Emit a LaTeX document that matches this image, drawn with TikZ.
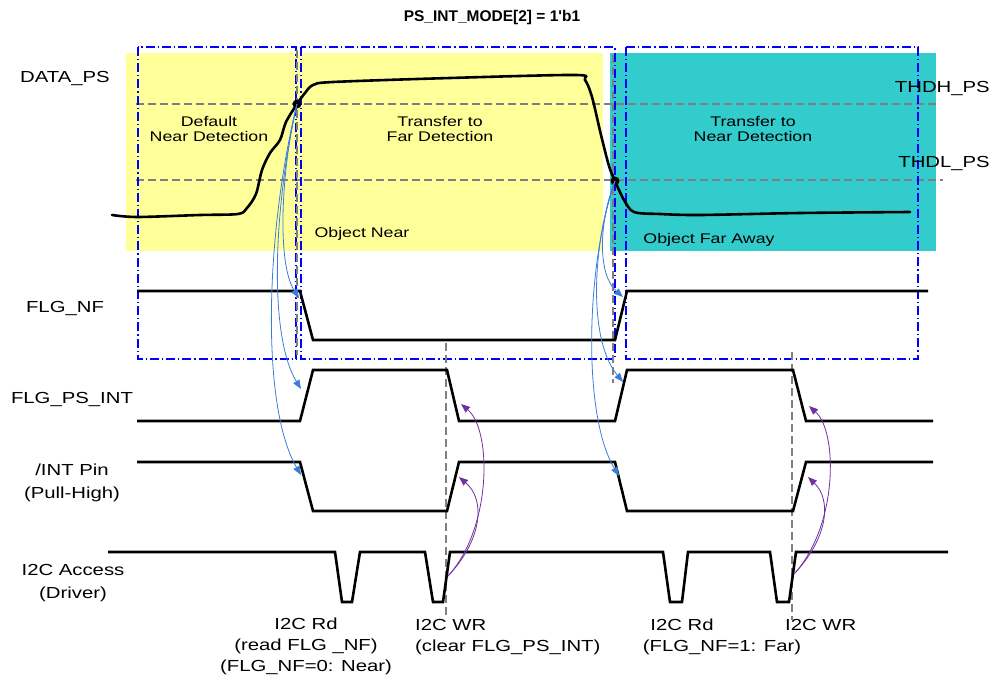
\documentclass[tikz,border=0pt]{standalone}
\usepackage{fontspec}
\setmainfont{Liberation Sans}[FakeStretch=1.27]
\newfontfamily\titlefont{Liberation Sans Bold}[Ligatures=TeXOff]
\usetikzlibrary{arrows.meta}
\definecolor{yel}{HTML}{FFFF99}
\definecolor{cyn}{HTML}{33CCCC}
\definecolor{arrb}{HTML}{3C7DD9}
\definecolor{arrp}{HTML}{7030A0}
\begin{document}
\begin{tikzpicture}[x=1pt,y=-1pt,
  sig/.style={line width=2.6pt, black, line join=miter},
  boxb/.style={draw=blue, line width=1.3pt, dash pattern=on 9pt off 3pt on 1.2pt off 3pt},
  gdash/.style={draw=gray, line width=1.1pt, dash pattern=on 8pt off 4pt},
  lab/.style={inner sep=0pt, font=\fontsize{16}{23}\selectfont, align=center},
  blab/.style={inner sep=0pt, font=\fontsize{14}{15.5}\selectfont, align=center},
  bot/.style={inner sep=0pt, font=\fontsize{16}{21}\selectfont},
  barr/.style={draw=arrb, line width=0.8pt, -{Triangle[length=9pt,width=7pt]}},
  parr/.style={draw=arrp, line width=0.8pt, -{Triangle[length=9pt,width=7pt]}},
  dotn/.style={circle, fill=black, inner sep=0pt, minimum size=9pt}]
\useasboundingbox (0,0) rectangle (991,677);
% background areas
\fill[yel] (126,53) rectangle (603,251);
\fill[cyn] (610,53) rectangle (936,251);
% threshold lines
\draw[gdash] (136,104) -- (936,104);
\draw[gdash] (136,180) -- (943,180);
% blue dash-dot boxes
\draw[boxb] (138,47) rectangle (296,359);
\draw[boxb] (301,47) rectangle (615,359);
\draw[boxb] (626,47) rectangle (918,359);
% gray vertical dashed
\draw[gdash] (297,50) -- (297,355);
\draw[gdash] (613,55) -- (613,383);
\draw[gdash] (446,343) -- (446,615);
\draw[gdash] (792,352) -- (792,620);
% DATA_PS curve
\draw[line width=2.6pt, line cap=round] plot[smooth, tension=0.5] coordinates {
 (112,215) (137,217) (200,215) (238,214) (247,208) (256,194) (262,170) (270,153)
 (280,140) (286,122) (297,104) (305,93) (313,85) (333,82) (450,78) (575,75)
 (585,80) (592,97) (601,135) (609,166) (615,181) (624,200) (634,212) (660,214)
 (700,215) (800,213) (910,212)};
\node[dotn] (dh) at (297,104) {};
\node[dotn] (dl) at (615,181) {};
% texts
\node[inner sep=0pt, font=\fontsize{15.5}{18}\selectfont\titlefont] (title) at (492,17) {PS\_INT\_MODE[2] = 1'b1};
\node[lab] (ldata) at (65,79) {DATA\_PS};
\node[lab, anchor=east] (thdh) at (990,89) {THDH\_PS};
\node[lab, anchor=east] (thdl) at (990,164) {THDL\_PS};
\node[blab] (t1) at (209,129) {Default\\Near Detection};
\node[blab] (t2) at (440,129) {Transfer to\\Far Detection};
\node[blab] (t3) at (753,129) {Transfer to\\Near Detection};
\node[blab] (on) at (362,234) {Object Near};
\node[blab] (of) at (709,240) {Object Far Away};
\node[lab] (lnf) at (65,309) {FLG\_NF};
\node[lab] (lint) at (72,400) {FLG\_PS\_INT};
\node[lab] (lpin) at (72,483) {/INT Pin\\(Pull-High)};
\node[lab] (li2c) at (73,583) {I2C Access\\(Driver)};
\node[bot, align=center] (rd1) at (306,646) {I2C Rd\\(read FLG \_NF)\\(FLG\_NF=0: Near)};
\node[bot, align=left, anchor=north west] (wr1) at (415,619) {I2C WR\\(clear FLG\_PS\_INT)};
\node[bot, anchor=north] (rd2a) at (682,619) {I2C Rd};
\node[bot, anchor=north] (rd2b) at (722,640) {(FLG\_NF=1: Far)};
\node[bot, anchor=north west] (wr2) at (785,619) {I2C WR};
% waveforms
\draw[sig] (137,291) -- (300,291) -- (313,340) -- (615,340) -- (627,291) -- (928,291);
\draw[sig] (137,421) -- (300,421) -- (313,370) -- (447,370) -- (459,421) -- (615,421) -- (627,370) -- (793,370) -- (806,421) -- (933,421);
\draw[sig] (137,462) -- (300,462) -- (313,511) -- (447,511) -- (459,462) -- (615,462) -- (627,511) -- (793,511) -- (806,462) -- (933,462);
\draw[sig] (108,552) -- (335,552) -- (342,602) -- (352,602) -- (360,552) -- (425,552) -- (433,602) -- (443,602) -- (450,552)
  -- (663,552) -- (670,602) -- (682,602) -- (688,552) -- (770,552) -- (777,602) -- (789,602) -- (796,552) -- (948,552);
% anchor coordinates for arrows
\coordinate (nf1) at (299,298);
\coordinate (pi1) at (301,389);
\coordinate (ip1) at (301,475);
\coordinate (nf2) at (623,297);
\coordinate (pi2) at (623,382);
\coordinate (ip2) at (619,476);
\coordinate (w1) at (448,576);
\coordinate (w2) at (794,574);
\coordinate (pf1) at (461,404);
\coordinate (pr1) at (459,477);
\coordinate (pf2) at (809,406);
\coordinate (pr2) at (808,477);
% blue arrows
\draw[barr] (dh.center) .. controls (282,165) and (276,262) .. (nf1);
\draw[barr] (dh.center) .. controls (274,205) and (268,335) .. (pi1);
\draw[barr] (dh.center) .. controls (266,230) and (260,405) .. (ip1);
\draw[barr] (dl.center) .. controls (598,225) and (598,275) .. (nf2);
\draw[barr] (dl.center) .. controls (592,245) and (588,340) .. (pi2);
\draw[barr] (dl.center) .. controls (586,265) and (582,415) .. (ip2);
% purple arrows
\draw[parr] (w1) .. controls (492,528) and (492,430) .. (pf1);
\draw[parr] (w1) .. controls (482,540) and (486,500) .. (pr1);
\draw[parr] (w2) .. controls (838,526) and (838,432) .. (pf2);
\draw[parr] (w2) .. controls (828,538) and (832,500) .. (pr2);
\end{tikzpicture}
\end{document}
